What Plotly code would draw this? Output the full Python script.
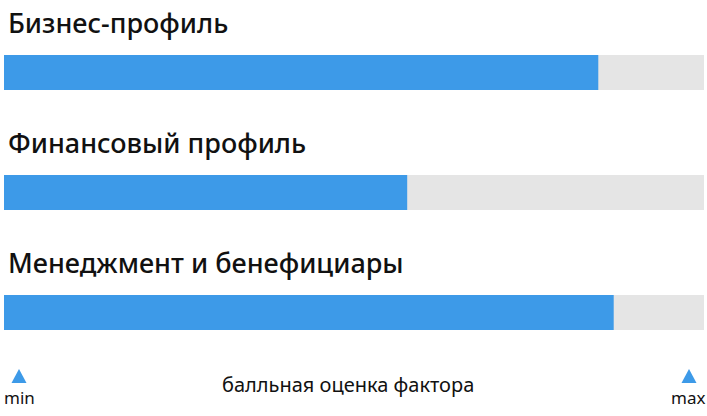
import plotly.graph_objects as go

# data
factors = ["Бизнес-профиль", "Финансовый профиль", "Менеджмент и бенефициары"]
scores = [84.9, 57.6, 87.1]
score_max = 100
axis_caption = "балльная оценка фактора"
end_labels = ["min", "max"]

W, H = 707, 416
BLUE = "#3d9ae8"
GREY = "#e5e5e5"
TEXT = "#111111"

# pixel helpers: x px = 4 + 7 * value, bar i centre at 72.5 + 120 * i
x_range = [-4 / 7, (W - 4) / 7]
y_range = [(H - 72.5) / 120, -72.5 / 120]
bar_w = 35 / 120

ypos = list(range(len(factors)))


def px(x):
    return x / W


def py(y):
    return 1 - y / H


fig = go.Figure()
fig.add_trace(go.Bar(
    x=[score_max] * len(factors), y=ypos, orientation="h",
    width=bar_w, marker=dict(color=GREY, line=dict(width=0)),
    hoverinfo="skip",
))
fig.add_trace(go.Bar(
    x=scores, y=ypos, orientation="h", text=factors,
    width=bar_w, marker=dict(color=BLUE, line=dict(width=0)),
    textposition="none", hovertemplate="%{text}: %{x}<extra></extra>",
))

# titles above bars
for i, name in enumerate(factors):
    fig.add_annotation(
        x=0, y=i - 50 / 120, xref="x", yref="y", text=name,
        showarrow=False, xanchor="left", yanchor="middle", xshift=2,
        font=dict(family="Noto Sans", size=27, weight=500, color=TEXT),
    )

# min / max markers and caption
for label, cx in zip(end_labels, [19, 689]):
    fig.add_shape(
        type="path", xref="paper", yref="paper",
        path=f"M {px(cx - 7.5)} {py(383)} L {px(cx + 7.5)} {py(383)} "
             f"L {px(cx)} {py(369)} Z",
        fillcolor=BLUE, line=dict(width=0),
    )
fig.add_annotation(
    x=px(2), y=py(397), xref="paper", yref="paper", text=end_labels[0],
    showarrow=False, xanchor="left", yanchor="middle",
    font=dict(family="Noto Sans", size=17, color=TEXT),
)
fig.add_annotation(
    x=px(707), y=py(397), xref="paper", yref="paper", text=end_labels[1],
    showarrow=False, xanchor="right", yanchor="middle",
    font=dict(family="Noto Sans", size=17, color=TEXT),
)
fig.add_annotation(
    x=px(348), y=py(384), xref="paper", yref="paper", text=axis_caption,
    showarrow=False, xanchor="center", yanchor="middle",
    font=dict(family="Noto Sans", size=20, color=TEXT),
)

fig.update_layout(
    width=W, height=H,
    margin=dict(l=0, r=0, t=0, b=0),
    barmode="overlay",
    showlegend=False,
    plot_bgcolor="white", paper_bgcolor="white",
    xaxis=dict(range=x_range, visible=False, fixedrange=True),
    yaxis=dict(range=y_range, visible=False, fixedrange=True),
)

fig.write_html(
    "out.html",
    config=dict(displayModeBar=False),
    post_script="document.body.style.margin='0';document.body.style.overflow='hidden';",
)
